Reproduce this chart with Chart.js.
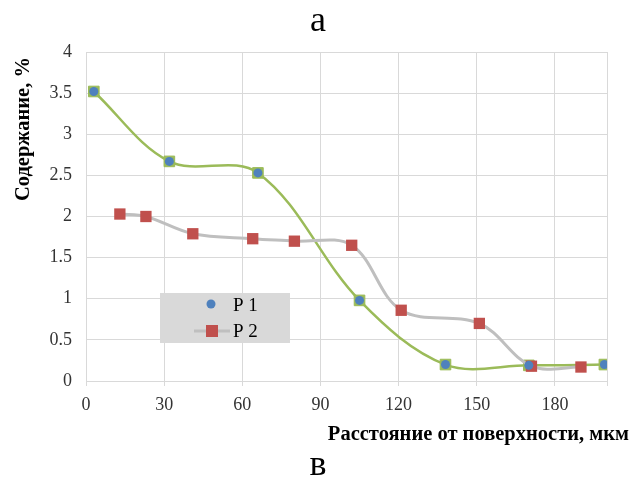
<!DOCTYPE html>
<html lang="ru">
<head>
<meta charset="utf-8">
<script src="https://cdn.jsdelivr.net/npm/chart.js@4.4.1/dist/chart.umd.min.js"></script>
<style>
  html, body { margin: 0; padding: 0; background: #fff; }
  #wrap { width: 634px; height: 479px; }
</style>
</head>
<body>
<div id="wrap"><canvas id="chart" width="634" height="479"></canvas></div>
<script>
// values
const p1X = [3, 32, 66, 105, 138, 170, 199];
const p1Y = [3.52, 2.67, 2.53, 0.98, 0.20, 0.19, 0.20];
const p2X = [13, 23, 41, 64, 80, 102, 121, 151, 171, 190];
const p2Y = [2.03, 2.00, 1.79, 1.73, 1.70, 1.65, 0.86, 0.70, 0.18, 0.17];
const xTicks = [0, 30, 60, 90, 120, 150, 180];
const seriesNames = ['P 1', 'P 2'];
const panelTop = 'а';
const panelBottom = 'в';
const xTitle = 'Расстояние от поверхности, мкм';
const yTitle = 'Содержание, %';

const serif = "'Liberation Serif', 'Times New Roman', serif";
const green = '#9bbb59';
const blue = '#4f81bd';
const red = '#c0504d';
const grayLine = '#bfbfbf';
const gridColor = '#d9d9d9';

const toPoints = (xs, ys) => xs.map((x, i) => ({ x: x, y: ys[i] }));

// extra texts + legend box drawn on top
const decorations = {
    id: 'decorations',
    afterDraw(chart) {
        const ctx = chart.ctx;
        const area = chart.chartArea;
        ctx.save();
        ctx.fillStyle = '#000';
        ctx.textBaseline = 'middle';

        ctx.font = `36px ${serif}`;
        ctx.textAlign = 'center';
        ctx.fillText(panelTop, 318, 22);
        ctx.fillText(panelBottom, 318, 466);

        ctx.font = `bold 20.5px ${serif}`;
        ctx.textAlign = 'right';
        ctx.fillText(xTitle, 629, 435);

        ctx.save();
        ctx.translate(24, 129);
        ctx.rotate(-Math.PI / 2);
        ctx.textAlign = 'center';
        ctx.fillText(yTitle, 0, 0);
        ctx.restore();

        // legend
        const lx = area.left + 74, ly = area.top + 241;
        ctx.fillStyle = '#d9d9d9';
        ctx.fillRect(lx, ly, 130, 50);

        const dsP1 = chart.data.datasets[2];
        const dsP2 = chart.data.datasets[1];

        ctx.fillStyle = dsP1.pointBackgroundColor;
        ctx.beginPath();
        ctx.arc(lx + 51, ly + 11, 4.5, 0, Math.PI * 2);
        ctx.fill();

        ctx.strokeStyle = dsP2.borderColor;
        ctx.lineWidth = 3;
        ctx.beginPath();
        ctx.moveTo(lx + 34, ly + 38);
        ctx.lineTo(lx + 70, ly + 38);
        ctx.stroke();
        ctx.fillStyle = dsP2.pointBackgroundColor;
        ctx.fillRect(lx + 46, ly + 32, 12, 12);

        ctx.fillStyle = '#000';
        ctx.font = `19px ${serif}`;
        ctx.textAlign = 'left';
        ctx.fillText(seriesNames[0], lx + 73, ly + 13);
        ctx.fillText(seriesNames[1], lx + 73, ly + 39);
        ctx.restore();
    }
};

new Chart(document.getElementById('chart'), {
    type: 'line',
    data: {
        datasets: [
            {
                label: 'trend',
                data: toPoints(p1X, p1Y),
                borderColor: green,
                borderWidth: 2.5,
                tension: 0.35,
                pointStyle: 'rect',
                pointRadius: 7.5,
                pointBackgroundColor: green,
                pointBorderColor: green,
                pointBorderWidth: 1,
                order: 3
            },
            {
                label: seriesNames[1],
                data: toPoints(p2X, p2Y),
                borderColor: grayLine,
                borderWidth: 3,
                tension: 0.35,
                pointStyle: 'rect',
                pointRadius: 8,
                pointBackgroundColor: red,
                pointBorderColor: red,
                pointBorderWidth: 0,
                order: 2
            },
            {
                label: seriesNames[0],
                data: toPoints(p1X, p1Y),
                showLine: false,
                pointStyle: 'circle',
                pointRadius: 4.5,
                pointBackgroundColor: blue,
                pointBorderColor: blue,
                pointBorderWidth: 0,
                order: 1
            }
        ]
    },
    options: {
        responsive: false,
        animation: false,
        layout: { padding: { top: 52, right: 27, bottom: 58, left: 10 } },
        plugins: {
            legend: { display: false },
            tooltip: { enabled: false }
        },
        scales: {
            x: {
                type: 'linear',
                min: 0,
                max: 200,
                afterFit(scale) { scale.height = 40; },
                ticks: {
                    stepSize: 30,
                    padding: 8,
                    color: '#333',
                    font: { family: serif, size: 18 },
                    callback: v => xTicks.includes(v) ? String(v) : ''
                },
                grid: { color: gridColor, tickLength: 5, tickColor: gridColor },
                border: { color: gridColor }
            },
            y: {
                min: 0,
                max: 4,
                afterFit(scale) { scale.width = 76; },
                ticks: {
                    stepSize: 0.5,
                    padding: 14,
                    color: '#333',
                    font: { family: serif, size: 18 },
                    callback: v => String(v)
                },
                grid: { color: gridColor, drawTicks: false },
                border: { color: gridColor }
            }
        }
    },
    plugins: [decorations]
});
</script>
</body>
</html>
